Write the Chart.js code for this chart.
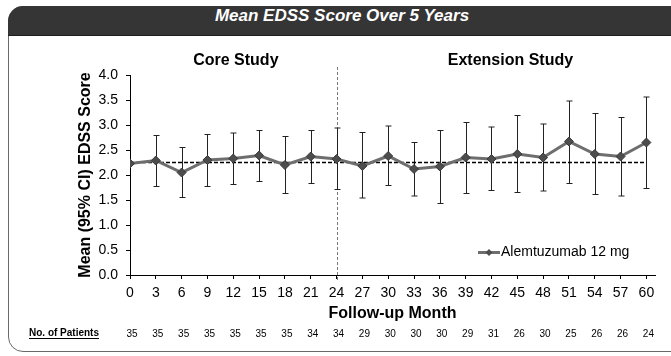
<!DOCTYPE html>
<html>
<head>
<meta charset="utf-8">
<script src="https://cdn.jsdelivr.net/npm/chart.js@4/dist/chart.umd.min.js"></script>
<style>
  html, body { margin: 0; padding: 0; background: #fff; overflow: hidden; }
  #wrap { position: relative; width: 671px; height: 356px; overflow: hidden; }
  #frame {
    position: absolute; left: 8px; top: 6px; width: 700px; height: 346px;
    border: 1px solid #6a6a6a; border-radius: 15px; box-sizing: border-box;
  }
  #header {
    position: absolute; left: 8px; top: 6px; width: 700px; height: 30px;
    background: #353535; border-top-left-radius: 15px; border-bottom: 1px solid #1e1e1e;
    box-sizing: border-box;
  }
  #title {
    position: absolute; left: 0; top: 6px; width: 684px; height: 30px; line-height: 30px;
    text-align: center; color: #fff; font: italic bold 17px 'Liberation Sans Narrow', 'Liberation Sans', Arial, sans-serif;
  }
  canvas { position: absolute; left: 0; top: 0; }
</style>
</head>
<body>
<div id="wrap">
  <div id="frame"></div>
  <div id="header"></div>
  <div id="title">Mean EDSS Score Over 5 Years</div>
  <canvas id="c" width="671" height="356"></canvas>
</div>
<script>
// Follow-up months (x categories / tick labels)
const months = [0, 3, 6, 9, 12, 15, 18, 21, 24, 27, 30, 33, 36, 39, 42, 45, 48, 51, 54, 57, 60];
// Mean EDSS score at each visit
const meanEdss = [2.23, 2.29, 2.05, 2.30, 2.33, 2.39, 2.20, 2.37, 2.32, 2.18, 2.38, 2.12, 2.17, 2.35, 2.32, 2.42, 2.35, 2.67, 2.42, 2.37, 2.65];
// 95% confidence interval bounds
const ciUpper = [null, 2.79, 2.55, 2.81, 2.84, 2.89, 2.77, 2.89, 2.94, 2.85, 2.98, 2.65, 2.89, 3.05, 2.96, 3.19, 3.02, 3.48, 3.23, 3.15, 3.56];
const ciLower = [null, 1.77, 1.55, 1.77, 1.81, 1.87, 1.63, 1.83, 1.71, 1.54, 1.79, 1.58, 1.43, 1.63, 1.69, 1.65, 1.68, 1.83, 1.61, 1.58, 1.73];
// Number of patients assessed at each visit
const patients = [35, 35, 35, 35, 35, 35, 35, 34, 34, 29, 30, 30, 30, 29, 31, 26, 30, 25, 26, 26, 24];
// Baseline reference level
const baselineLevel = 2.25;
const baselineSpan = [0, 60];
// Study phase boundary and headings
const phaseBoundary = 24;
const phases = [{ label: 'Core Study', at: 12.3 }, { label: 'Extension Study', at: 44.2 }];
const yTicks = [0, 0.5, 1, 1.5, 2, 2.5, 3, 3.5, 4];
const seriesName = 'Alemtuzumab 12 mg';

const SANS = "'Liberation Sans', Arial, sans-serif";
const NARROW = "'Liberation Sans Narrow', 'Liberation Sans', Arial, sans-serif";

const extras = {
  id: 'extras',
  beforeDatasetsDraw(chart) {
    const { ctx, scales: { x, y } } = chart;
    ctx.save();
    // phase boundary
    ctx.strokeStyle = '#7a7a7a';
    ctx.lineWidth = 1;
    ctx.setLineDash([3, 2]);
    const bx = Math.round(x.getPixelForValue(phaseBoundary)) + 0.5;
    ctx.beginPath();
    ctx.moveTo(bx, 67);
    ctx.lineTo(bx, y.getPixelForValue(0) + 5);
    ctx.stroke();
    ctx.setLineDash([]);
    // confidence interval whiskers
    ctx.strokeStyle = '#222';
    ctx.lineWidth = 1;
    months.forEach((m, i) => {
      if (ciUpper[i] == null) return;
      const px = Math.round(x.getPixelForValue(m)) + 0.5;
      const top = y.getPixelForValue(ciUpper[i]);
      const bot = y.getPixelForValue(ciLower[i]);
      ctx.beginPath();
      ctx.moveTo(px, top); ctx.lineTo(px, bot);
      ctx.moveTo(px - 3, top); ctx.lineTo(px + 3, top);
      ctx.moveTo(px - 3, bot); ctx.lineTo(px + 3, bot);
      ctx.stroke();
    });
    ctx.restore();
  },
  afterDraw(chart) {
    const { ctx, scales: { x, y } } = chart;
    ctx.save();
    // phase headings
    ctx.fillStyle = '#000';
    ctx.font = 'bold 16px ' + SANS;
    ctx.textAlign = 'center';
    ctx.textBaseline = 'middle';
    phases.forEach(p => ctx.fillText(p.label, x.getPixelForValue(p.at), 61));
    // legend
    const lx = 478, ly = 252.5;
    ctx.strokeStyle = '#6e6e6e';
    ctx.lineWidth = 3;
    ctx.beginPath(); ctx.moveTo(lx, ly); ctx.lineTo(lx + 22, ly); ctx.stroke();
    ctx.fillStyle = '#4d4d4d';
    ctx.beginPath();
    ctx.moveTo(lx + 11, ly - 3.5); ctx.lineTo(lx + 14.5, ly); ctx.lineTo(lx + 11, ly + 3.5); ctx.lineTo(lx + 7.5, ly);
    ctx.closePath(); ctx.fill();
    ctx.fillStyle = '#000';
    ctx.font = '14px ' + SANS;
    ctx.textAlign = 'left';
    ctx.fillText(seriesName, lx + 23, ly);
    // patients at risk row
    ctx.font = '10px ' + NARROW;
    ctx.textAlign = 'center';
    months.forEach((m, i) => ctx.fillText(String(patients[i]), x.getPixelForValue(m) + 2, 334));
    ctx.font = 'bold 10px ' + NARROW;
    ctx.textAlign = 'left';
    const lbl = 'No. of Patients';
    ctx.fillText(lbl, 29, 333);
    const w = ctx.measureText(lbl).width;
    ctx.fillRect(29, 338, w, 1);
    ctx.restore();
  }
};

new Chart(document.getElementById('c'), {
  type: 'line',
  data: {
    datasets: [
      {
        label: seriesName,
        data: months.map((m, i) => ({ x: m, y: meanEdss[i] })),
        borderColor: '#6e6e6e',
        borderWidth: 3,
        pointStyle: 'rectRot',
        pointRadius: 4.5,
        pointBackgroundColor: '#4d4d4d',
        pointBorderColor: '#3a3a3a',
        pointBorderWidth: 1,
        tension: 0,
        order: 0
      },
      {
        label: 'Baseline',
        data: baselineSpan.map(m => ({ x: m, y: baselineLevel })),
        borderColor: '#000',
        borderWidth: 1.3,
        borderDash: [4, 2],
        pointRadius: 0,
        order: 1
      }
    ]
  },
  options: {
    responsive: false,
    devicePixelRatio: 1,
    animation: false,
    layout: { padding: { top: 75, right: 16, bottom: 0, left: 0 } },
    plugins: { legend: { display: false }, tooltip: { enabled: false } },
    scales: {
      x: {
        type: 'linear',
        min: 0,
        max: 61,
        afterFit(s) { s.height = 81; },
        afterBuildTicks(s) { s.ticks = months.map(v => ({ value: v })); },
        grid: { drawOnChartArea: false, tickLength: 4, color: '#000' },
        border: { color: '#000', width: 1 },
        ticks: {
          autoSkip: false, maxRotation: 0, padding: 6,
          color: '#000', font: { family: SANS, size: 14 },
          callback: v => String(v)
        },
        title: {
          display: true, text: 'Follow-up Month', color: '#000',
          font: { family: SANS, size: 16, weight: 'bold' },
          padding: { top: 0, bottom: 33 }
        }
      },
      y: {
        min: 0,
        max: 4,
        afterFit(s) { s.width = 130; },
        afterBuildTicks(s) { s.ticks = yTicks.map(v => ({ value: v })); },
        grid: { drawOnChartArea: false, tickLength: 4, color: '#000' },
        border: { color: '#000', width: 1 },
        ticks: {
          padding: 8, color: '#000', font: { family: SANS, size: 14 },
          callback: v => Number(v).toFixed(1)
        },
        title: {
          display: true, text: 'Mean (95% CI) EDSS Score', color: '#000',
          font: { family: SANS, size: 16, weight: 'bold' },
          padding: { top: 76, bottom: 0 }
        }
      }
    }
  },
  plugins: [extras]
});
</script>
</body>
</html>
